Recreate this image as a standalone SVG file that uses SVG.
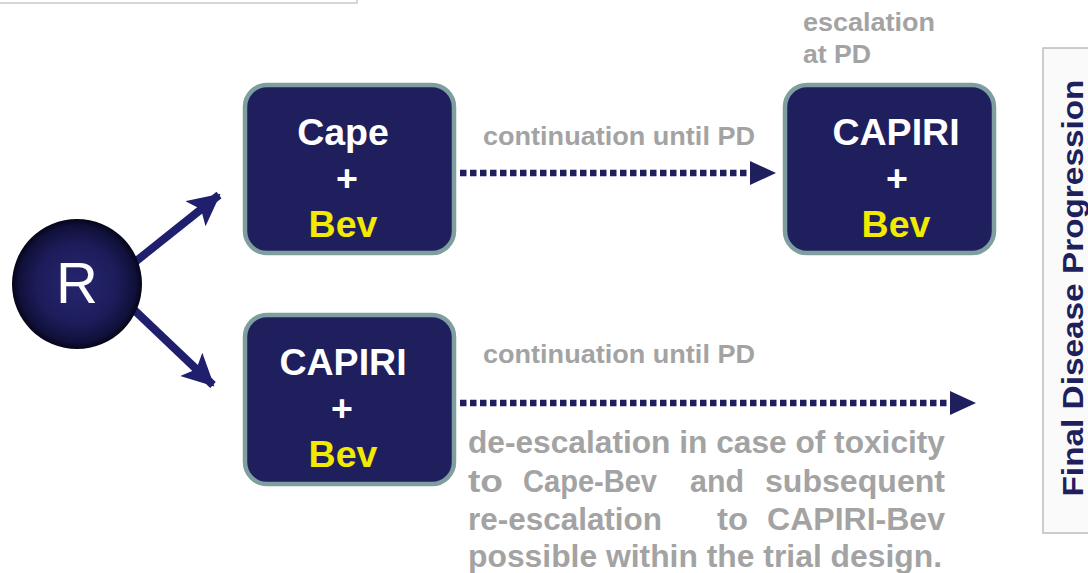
<svg xmlns="http://www.w3.org/2000/svg" width="1088" height="573" viewBox="0 0 1088 573">
<style>
.box{fill:#1f1f5e;stroke:#7f9ea0;stroke-width:4.5}
.t{font-family:"Liberation Sans",Arial,sans-serif;font-weight:bold;text-anchor:middle}
.w{fill:#ffffff;font-size:37.5px}
.y{fill:#f2ea00;font-size:37.5px}
.g{font-family:"Liberation Sans",Arial,sans-serif;font-weight:bold;fill:#a3a3a3}
.solid{stroke:#1f1f6e;stroke-width:8;fill:none}
.dot{stroke:#1f1f5e;stroke-width:6.5;stroke-dasharray:6.5 3.5;fill:none}
.head{fill:#1f1f5e}
</style>
<defs>
<radialGradient id="rg" cx="0.5" cy="0.5" r="0.5">
<stop offset="0" stop-color="#25256e"/>
<stop offset="0.6" stop-color="#1d1d5c"/>
<stop offset="0.9" stop-color="#10103a"/>
<stop offset="1" stop-color="#050518"/>
</radialGradient>
<marker id="ah" markerUnits="userSpaceOnUse" markerWidth="36" markerHeight="36" refX="30" refY="16" orient="auto">
<path d="M0,0 L32,16 L0,32 L7,16 Z" fill="#1f1f6e"/>
</marker>
</defs>
<rect x="-2" y="-20" width="359" height="23" fill="#ffffff" stroke="#c8c8c8" stroke-width="1.5"/>
<g id="final-pd">
<rect x="1043" y="48" width="60" height="485" fill="#fafafa" stroke="#bdbdbd" stroke-width="1.5"/>
<text class="t" transform="translate(1083,288) rotate(-90)" fill="#1f1f5e" font-size="30" textLength="417" lengthAdjust="spacingAndGlyphs">Final Disease Progression</text>
</g>
<g id="connectors">
<line class="solid" x1="130" y1="266" x2="219" y2="195" marker-end="url(#ah)"/>
<line class="solid" x1="130" y1="306" x2="213" y2="385" marker-end="url(#ah)"/>
<line class="dot" x1="460" y1="173" x2="750" y2="173"/>
<polygon class="head" points="750,161 776,173 750,185"/>
<line class="dot" x1="460" y1="403" x2="950" y2="403"/>
<polygon class="head" points="950,391 976,403 950,415"/>
</g>
<g id="R">
<circle cx="77" cy="284" r="65" fill="url(#rg)"/>
<text x="77" y="303" font-family="'Liberation Sans',Arial,sans-serif" font-size="58" fill="#ffffff" text-anchor="middle">R</text>
</g>
<g id="cape-bev">
<rect class="box" x="245" y="85" width="209" height="168" rx="22"/>
<text class="t w" x="343" y="145">Cape</text>
<text class="t w" x="347" y="191">+</text>
<text class="t y" x="343" y="237">Bev</text>
</g>
<g id="capiri-bev-top">
<rect class="box" x="785" y="85" width="209" height="168" rx="22"/>
<text class="t w" x="896" y="145">CAPIRI</text>
<text class="t w" x="897" y="191">+</text>
<text class="t y" x="896" y="237">Bev</text>
</g>
<g id="capiri-bev-bottom">
<rect class="box" x="245" y="315" width="209" height="169" rx="22"/>
<text class="t w" x="343" y="375">CAPIRI</text>
<text class="t w" x="342" y="421">+</text>
<text class="t y" x="343" y="467">Bev</text>
</g>
<g id="labels">
<text class="g" x="483" y="145" font-size="25" textLength="272" lengthAdjust="spacingAndGlyphs">continuation until PD</text>
<text class="g" x="483" y="363" font-size="25" textLength="272" lengthAdjust="spacingAndGlyphs">continuation until PD</text>
<text class="g" x="803" y="31" font-size="25" textLength="132" lengthAdjust="spacingAndGlyphs">escalation</text>
<text class="g" x="803" y="63" font-size="25" textLength="68" lengthAdjust="spacingAndGlyphs">at PD</text>
<text class="g" font-size="31" x="468" y="453" textLength="477" lengthAdjust="spacingAndGlyphs">de-escalation in case of toxicity</text>
<text class="g" font-size="31" y="492"><tspan x="468" textLength="35" lengthAdjust="spacingAndGlyphs">to</tspan><tspan x="523" textLength="134" lengthAdjust="spacingAndGlyphs">Cape-Bev</tspan><tspan x="690" textLength="54" lengthAdjust="spacingAndGlyphs">and</tspan><tspan x="765" textLength="180" lengthAdjust="spacingAndGlyphs">subsequent</tspan></text>
<text class="g" font-size="31" y="530"><tspan x="468" textLength="194" lengthAdjust="spacingAndGlyphs">re-escalation</tspan><tspan x="717" textLength="31" lengthAdjust="spacingAndGlyphs">to</tspan><tspan x="767" textLength="178" lengthAdjust="spacingAndGlyphs">CAPIRI-Bev</tspan></text>
<text class="g" font-size="31" x="468" y="567" textLength="474" lengthAdjust="spacingAndGlyphs">possible within the trial design.</text>
</g>
</svg>
